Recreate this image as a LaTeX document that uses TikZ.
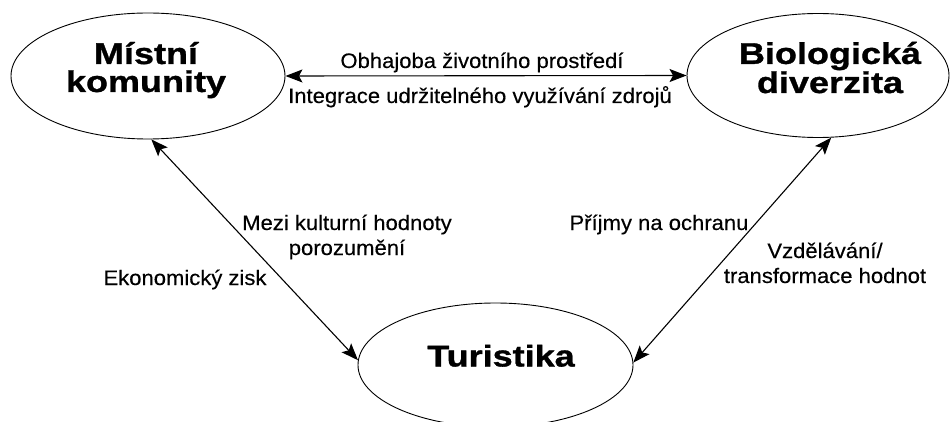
\documentclass[tikz,border=0pt]{standalone}
\usepackage{fontspec}
\setmainfont{Liberation Sans}
\newfontfamily\titlefont[FakeStretch=1.2,FakeBold=1.1]{Liberation Sans}
\newfontfamily\labfont[FakeStretch=1.05,FakeBold=0.3]{Liberation Sans}
\usetikzlibrary{shapes.geometric,arrows.meta}
\begin{document}
\begin{tikzpicture}[x=1pt,y=-1pt,
  blob/.style={ellipse,draw,line width=0.9pt,inner sep=0pt},
  title/.style={font=\titlefont\bfseries\fontsize{30}{28}\selectfont,inner sep=0pt,align=center,anchor=base},
  lab/.style={font=\labfont\fontsize{21}{25}\selectfont,inner sep=0pt,align=center,anchor=base},
  tipk/.tip={Stealth[length=17pt,width=13pt,inset=3.5pt]},
  link/.style={line width=1.1pt,tipk-tipk}]
\useasboundingbox (0,0) rectangle (950,422);
% ellipses
\node[blob,minimum width=274pt,minimum height=126pt] (L) at (148,76) {};
\node[blob,minimum width=262pt,minimum height=124pt] (R) at (818,75.5) {};
\node[blob,minimum width=275pt,minimum height=124pt] (T) at (495.5,365) {};
% titles (base anchor = baseline of the last line)
\node[title] (Lt) at (146,92) {Místní\\komunity};
\node[title] (Rt) at (830,93) {Biologická\\diverzita};
\node[title] (Tt) at (501,366.5) {Turistika};
% connectors
\draw[link] (L.east) -- (R.west);
\draw[link] (L.-87) -- (T.178);
\draw[link] (R.-78) -- (T.1);
% labels
\node[lab] (a1) at (482,68) {Obhajoba životního prostředí};
\node[lab] (a2) at (480,103) {Integrace udržitelného využívání zdrojů};
\node[lab] (b1) at (347,255) {Mezi kulturní hodnoty\\porozumění};
\node[lab] (b3) at (185,285) {Ekonomický zisk};
\node[lab] (c1) at (659,230) {Příjmy na ochranu};
\node[lab] (c2) at (825,283) {Vzdělávání/\\transformace hodnot};
\end{tikzpicture}
\end{document}
